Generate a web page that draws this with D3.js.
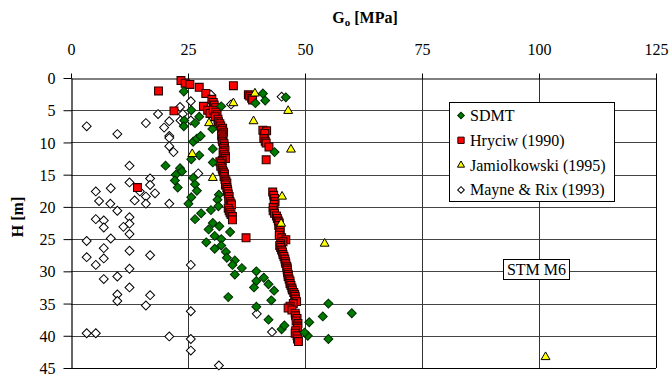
<!DOCTYPE html>
<html>
<head>
<meta charset="utf-8">
<script src="https://cdn.jsdelivr.net/npm/d3@7"></script>
<style>
  html, body { margin: 0; padding: 0; background: #fff; }
  svg { display: block; }
  svg text { font-family: "Liberation Serif", "Times New Roman", serif; }
</style>
</head>
<body>
<div id="chart"></div>
<script>
// G0 [MPa] vs depth H [m]
const xTicks = [0, 25, 50, 75, 100, 125];
const yTicks = [0, 5, 10, 15, 20, 25, 30, 35, 40, 45];
const seriesNames = ['SDMT', 'Hryciw (1990)', 'Jamiolkowski (1995)', 'Mayne & Rix (1993)'];

// [G0, H]
const sdmt = [
  [24.1,2.1],[25.7,5.0],[24.2,6.6],[24.1,7.5],[26.5,7.0],[27.4,6.0],[26.1,9.9],[26.9,9.4],[27.7,9.0],
  [27.4,12.0],[25.7,12.6],[20.2,13.6],[23.3,14.0],[23.7,14.5],[22.4,15.0],[22.2,15.9],[22.8,17.0],
  [26.1,15.5],[26.5,16.5],[26.9,17.5],[25.7,18.5],[25.1,19.5],[26.5,21.9],[27.8,21.0],[41.0,2.4],
  [41.5,3.5],[39.4,3.9],[45.9,3.0],[32.1,4.4],[30.2,7.9],[30.3,11.0],[30.3,13.1],[43.5,11.5],
  [31.6,18.1],[31.3,18.9],[29.9,20.5],[31.5,19.9],[30.3,22.5],[31.7,23.0],[34.0,23.9],[29.4,23.5],
  [32.1,25.0],[30.7,24.5],[28.9,25.5],[32.1,26.0],[30.7,26.5],[33.1,27.0],[33.3,27.9],[35.0,28.3],
  [34.5,29.0],[36.5,29.5],[35.0,30.5],[39.6,30.0],[39.6,31.5],[39.1,32.5],[41.2,31.0],[42.2,32.0],
  [43.4,33.0],[42.8,34.5],[33.6,34.0],[39.6,35.5],[42.2,37.5],[45.0,39.0],[45.6,38.4],[50.9,37.9],
  [50.6,40.0],[49.9,39.5],[55.0,35.0],[60.0,36.5],[53.8,37.0],[55.0,40.5]
];

const hryciw = [
  [23.5,0.4],[24.4,0.8],[25.4,1.0],[27.4,1.45],[28.8,2.4],[30.1,3.3],[30.4,3.8],[28.3,4.4],[29.2,5.0],
  [29.7,5.5],[18.7,2.0],[22.0,5.1],[14.2,17.0],[34.7,1.2],[37.4,24.8],[41.7,12.7],
  [30.6,4.2],[30.9,4.6],[30.4,5.0],[30.9,5.3],[31.2,5.7],[30.8,6.0],[31.4,6.4],[31.5,6.8],[31.8,7.1],
  [32.0,7.45],[32.4,7.8],[32.2,8.1],[32.6,8.4],[32.3,8.7],[32.2,9.0],[32.5,9.3],[32.3,9.6],[32.4,9.9],
  [32.7,10.2],[32.8,10.6],[32.6,10.9],[32.9,11.2],[32.5,11.5],[32.7,11.9],[33.0,12.2],[33.0,12.5],
  [32.3,12.8],[31.8,13.0],[32.1,13.3],[32.0,13.7],[32.3,14.0],[32.4,14.3],[32.6,14.6],[32.8,14.9],
  [32.7,15.3],[32.9,15.7],[33.1,16.0],[33.3,16.3],[33.0,16.6],[33.3,17.0],[33.4,17.3],[33.5,17.6],
  [33.6,18.0],[33.8,18.4],[33.7,18.8],[34.0,19.2],[34.2,19.5],[34.3,19.7],[33.6,20.2],[33.8,20.6],
  [34.0,20.9],[34.2,21.2],[34.5,21.5],[34.5,22.0],
  [37.9,2.6],[38.2,2.8],[38.6,3.15],[38.8,3.4],[41.0,8.1],[41.8,8.2],[41.4,8.6],[41.2,9.4],[41.5,9.8],
  [41.7,10.1],[42.3,10.7],
  [43.1,17.7],[43.3,18.2],[43.5,18.7],[43.6,19.2],[43.4,19.6],[43.2,20.1],[43.2,20.6],[43.5,21.0],
  [43.9,21.4],[44.1,21.8],[44.3,22.2],[44.5,22.5],[44.4,22.9],[44.6,23.3],[44.7,23.6],[44.6,24.0],
  [44.5,24.4],[45.0,24.8],[45.9,25.1],[45.3,25.4],[44.8,25.7],[44.6,26.0],[44.8,26.3],[45.0,26.7],
  [45.2,27.0],[45.3,27.4],[45.5,27.7],[45.7,28.1],[45.8,28.5],[45.9,28.8],[46.1,29.2],[46.2,29.5],
  [46.2,29.8],[46.3,30.2],[46.4,30.5],[46.4,30.8],[46.6,31.2],[46.8,31.5],[46.8,31.9],[47.0,32.2],
  [47.2,32.6],[47.3,32.9],[47.6,33.3],[47.8,33.6],[47.9,33.9],[48.0,34.3],[48.2,34.7],[47.5,35.0],
  [46.8,35.4],[46.4,35.7],[47.2,36.0],[47.9,36.5],[48.0,36.9],[48.3,37.3],[48.1,37.7],[48.5,38.1],
  [48.4,38.5],[48.4,38.8],[48.0,39.2],[47.9,39.6],[48.3,40.0],[48.4,40.5],[48.6,40.9]
];

const jamiolkowski = [
  [39.3,2.4],[34.7,3.9],[29.5,7.0],[39.0,6.7],[46.4,5.1],[47.0,11.1],[25.9,11.8],[30.3,15.5],
  [45.1,18.4],[44.9,22.6],[54.2,25.7],[101.4,43.3]
];

const mayneRix = [
  [3.35,7.5],[9.9,8.7],[16.0,7.0],[18.6,5.6],[21.0,6.7],[19.9,7.7],[21.0,9.0],[21.0,9.3],[21.0,10.6],
  [21.9,11.5],[23.3,4.5],[23.9,5.6],[23.4,6.6],[25.6,3.6],[25.6,6.6],[12.5,13.6],[16.9,15.6],[16.9,16.6],
  [12.5,16.2],[8.5,17.1],[5.3,17.6],[6.0,19.1],[8.4,19.5],[13.6,19.0],[16.0,18.4],[16.0,19.5],[17.95,17.9],
  [14.7,17.6],[21.0,19.5],[9.9,20.6],[5.3,21.9],[7.0,22.1],[7.0,23.2],[12.5,21.6],[12.5,22.6],[11.2,23.1],
  [12.5,24.2],[8.5,24.9],[3.35,25.3],[7.0,26.4],[12.5,26.8],[16.9,27.5],[3.35,27.8],[7.0,28.0],[5.3,29.0],
  [12.5,29.6],[25.6,29.0],[9.9,30.8],[7.0,31.2],[12.5,32.5],[9.9,33.6],[16.9,33.7],[9.9,34.6],[16.0,35.3],
  [25.6,36.2],[3.35,39.6],[5.3,39.6],[21.0,40.1],[25.6,40.5],[25.6,42.3],[31.6,44.6],[45.0,2.9],
  [29.9,2.6],[30.1,3.8],[34.2,4.1],[27.2,14.8],[39.7,36.6],[42.95,39.4]
];

const width = 672, height = 376;
const margin = { top: 78, right: 16, bottom: 8, left: 71 };
const serif = '"Liberation Serif", "Times New Roman", serif';

const svg = d3.select('#chart').append('svg')
  .attr('width', width)
  .attr('height', height)
  .attr('font-family', serif);

const x = d3.scaleLinear().domain([0, 125]).range([margin.left, width - margin.right]);
const y = d3.scaleLinear().domain([0, 45]).range([margin.top, height - margin.bottom]);

// gridlines
svg.append('g')
  .selectAll('line')
  .data(yTicks.slice(1))
  .join('line')
  .attr('x1', x(0)).attr('x2', x(125))
  .attr('y1', d => Math.round(y(d)) + 0.5).attr('y2', d => Math.round(y(d)) + 0.5)
  .attr('stroke', d => d === 45 ? '#000' : '#444')
  .attr('stroke-width', 1);

svg.append('g')
  .selectAll('line')
  .data(xTicks.slice(1))
  .join('line')
  .attr('x1', d => Math.round(x(d)) + 0.5).attr('x2', d => Math.round(x(d)) + 0.5)
  .attr('y1', y(0)).attr('y2', y(45))
  .attr('stroke', d => d === 125 ? '#000' : '#333')
  .attr('stroke-width', 1);

// axes
const xAxis = svg.append('g')
  .attr('transform', `translate(0, ${Math.round(y(0)) + 0.5})`)
  .call(d3.axisTop(x).tickValues(xTicks).tickSize(5).tickPadding(19).tickSizeOuter(0));

const yAxis = svg.append('g')
  .attr('transform', `translate(${Math.round(x(0)) + 0.5}, 0)`)
  .call(d3.axisLeft(y).tickValues(yTicks).tickSize(8).tickPadding(8).tickSizeOuter(0));

[xAxis, yAxis].forEach(g => {
  g.attr('font-family', serif).attr('font-size', 16);
  g.select('.domain').attr('stroke', '#000').attr('stroke-width', 1.2);
  g.selectAll('.tick line').attr('stroke', '#000');
  g.selectAll('.tick text')
    .attr('font-family', serif)
    .attr('font-size', 16)
    .attr('fill', '#000');
});
yAxis.selectAll('.tick text').attr('dy', '0.35em');

// axis titles
const title = svg.append('text')
  .attr('x', 365).attr('y', 23)
  .attr('text-anchor', 'middle')
  .attr('font-size', 16)
  .attr('font-weight', 'bold');
title.append('tspan').text('G');
title.append('tspan').attr('font-size', 11).attr('dy', 3).text('o');
title.append('tspan').attr('dy', -3).text(' [MPa]');

svg.append('text')
  .attr('transform', 'translate(23, 217) rotate(-90)')
  .attr('text-anchor', 'middle')
  .attr('font-size', 16)
  .attr('font-weight', 'bold')
  .text('H [m]');

// markers
const diamond = d3.symbol().type(d3.symbolSquare).size(40);
const square = d3.symbol().type(d3.symbolSquare).size(62);
const triangle = d3.symbol().type(d3.symbolTriangle).size(34);

const plot = svg.append('g');

plot.selectAll('path.mayne')
  .data(mayneRix)
  .join('path')
  .attr('class', 'mayne')
  .attr('d', diamond)
  .attr('transform', d => `translate(${x(d[0])},${y(d[1])}) rotate(45)`)
  .attr('fill', '#fff')
  .attr('stroke', '#000')
  .attr('stroke-width', 1);

plot.selectAll('path.hryciw')
  .data(hryciw)
  .join('path')
  .attr('class', 'hryciw')
  .attr('d', square)
  .attr('transform', d => `translate(${x(d[0])},${y(d[1])})`)
  .attr('fill', '#ff0000')
  .attr('stroke', '#2a0000')
  .attr('stroke-width', 1.1);

plot.selectAll('path.sdmt')
  .data(sdmt)
  .join('path')
  .attr('class', 'sdmt')
  .attr('d', diamond)
  .attr('transform', d => `translate(${x(d[0])},${y(d[1])}) rotate(45)`)
  .attr('fill', '#007a00')
  .attr('stroke', '#002a00')
  .attr('stroke-width', 1);

plot.selectAll('path.jam')
  .data(jamiolkowski)
  .join('path')
  .attr('class', 'jam')
  .attr('d', triangle)
  .attr('transform', d => `translate(${x(d[0])},${y(d[1])})`)
  .attr('fill', '#ffff00')
  .attr('stroke', '#000')
  .attr('stroke-width', 1);

// legend
const legend = svg.append('g');
legend.append('rect')
  .attr('x', 449.5).attr('y', 102.5).attr('width', 165).attr('height', 99)
  .attr('fill', '#fff').attr('stroke', '#000');

const legendStyles = [
  { sym: d3.symbol().type(d3.symbolSquare).size(22), rot: 45, fill: '#007a00', stroke: '#002a00' },
  { sym: d3.symbol().type(d3.symbolSquare).size(40), rot: 0, fill: '#ff0000', stroke: '#2a0000' },
  { sym: d3.symbol().type(d3.symbolTriangle).size(22), rot: 0, fill: '#ffff00', stroke: '#000' },
  { sym: d3.symbol().type(d3.symbolSquare).size(22), rot: 45, fill: '#fff', stroke: '#000' }
];

seriesNames.forEach((name, i) => {
  const cy = 115.5 + i * 24.8;
  const s = legendStyles[i];
  legend.append('path')
    .attr('d', s.sym)
    .attr('transform', `translate(461,${cy}) rotate(${s.rot})`)
    .attr('fill', s.fill).attr('stroke', s.stroke).attr('stroke-width', 1);
  legend.append('text')
    .attr('x', 470).attr('y', cy + 5.5)
    .attr('font-size', 16)
    .text(name);
});

// STM M6 label
svg.append('rect')
  .attr('x', 503.5).attr('y', 259.5).attr('width', 66).attr('height', 20)
  .attr('fill', '#fff').attr('stroke', '#000');
svg.append('text')
  .attr('x', 536.5).attr('y', 275)
  .attr('text-anchor', 'middle')
  .attr('font-size', 16)
  .text('STM M6');
</script>
</body>
</html>
